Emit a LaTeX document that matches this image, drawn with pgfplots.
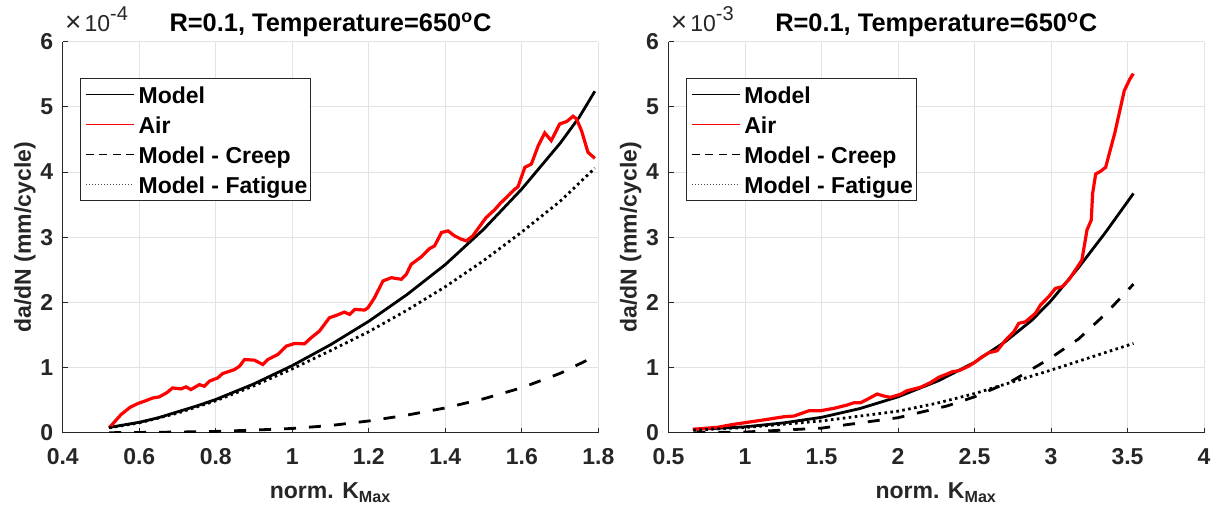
\documentclass[border=0pt]{standalone}
\usepackage{fontspec}
\setmainfont{Liberation Sans}
\usepackage{pgfplots}
\pgfplotsset{compat=1.18}
\definecolor{axc}{HTML}{262626}
\definecolor{gridc}{HTML}{E3E3E3}
\newcommand{\tfont}{\fontsize{11.5}{13.5}\selectfont\bfseries}
\newcommand{\scalelabel}[1]{\fontsize{11.5}{12}\selectfont\mdseries{\fontsize{14}{14}\selectfont×}\hspace{1.5pt}10\raisebox{5.5pt}{\fontsize{10}{10}\selectfont #1}}
\tikzset{scalelab/.style={anchor=base west, text=axc, inner sep=0pt, xshift=1pt, yshift=5pt}}
\pgfplotsset{
  mystyle/.style={
    scale only axis, width=267.75pt, height=195.5pt, clip mode=individual,
    axis lines=left, axis line style={-, draw=axc, line width=0.5pt},
    grid=major, major grid style={draw=gridc, line width=0.5pt},
    tick align=inside, major tick length=2.5pt, tick style={draw=axc, line width=0.5pt},
    ymin=0, ymax=6, ytick={0,1,2,3,4,5,6},
    /pgf/number format/assume math mode=true,
    every tick label/.append style={font=\tfont, text=axc},
    xticklabel style={yshift=-4.3pt},
    yticklabel style={xshift=-1.3pt},
    ylabel={da/dN (mm/cycle)},
    xlabel={norm. K\textsubscript{Max}},
    every axis x label/.style={at={(axis description cs:0.5,0)}, anchor=base, yshift=-33pt, font=\tfont, text=axc},
    every axis y label/.style={at={(axis description cs:0,0.5)}, rotate=90, anchor=base, yshift=15.9pt, font=\tfont, text=axc},
    title={R=0.1, Temperature=650\textsuperscript{o}C},
    every axis title/.style={at={(axis description cs:0.5,1)}, anchor=base, yshift=5pt, font=\fontsize{12.7}{14}\selectfont\bfseries, text=black},
    legend style={at={(0.032,0.908)}, anchor=north west, draw=axc, line width=0.5pt, fill=white,
      inner sep=0.6pt, font=\tfont, column sep=1pt,
      nodes={inner sep=1pt, text height=11.2pt, text depth=1.8pt}},
    legend cell align=left,
  },
  modelsty/.style={black, line width=1.4pt,
    legend image code/.code={\path (0pt,0pt); \draw[black, line width=0.6pt] (1.4pt,0pt) -- (25.4pt,0pt);}},
  airsty/.style={red, line width=1.6pt,
    legend image code/.code={\path (0pt,0pt); \draw[red, line width=0.6pt] (1.4pt,0pt) -- (25.4pt,0pt);}},
  creepsty/.style={black, line width=1.4pt, dash pattern=on 6pt off 6.5pt,
    legend image code/.code={\path (0pt,0pt); \draw[black, line width=0.6pt, dash pattern=on 4pt off 2.7pt] (1.4pt,0pt) -- (25.4pt,0pt);}},
  fatsty/.style={black, line width=1.4pt, dash pattern=on 1.3pt off 1.7pt,
    legend image code/.code={\path (0pt,0pt); \draw[black!70, line width=0.6pt, dash pattern=on 0.6pt off 0.9pt] (1.4pt,0pt) -- (25.4pt,0pt);}},
}
\begin{document}
\begin{tikzpicture}
\useasboundingbox (0,0) rectangle (610pt,256.5pt);
% ---------------- left panel ----------------
\begin{axis}[mystyle, at={(31.4pt,40.15pt)}, anchor=south west,
  xmin=0.4, xmax=1.8, xtick={0.4,0.6,0.8,1,1.2,1.4,1.6,1.8}]
\addplot[modelsty] coordinates {
(0.521,0.08) (0.55,0.11) (0.6,0.16) (0.65,0.23) (0.7,0.32) (0.75,0.41) (0.8,0.51)
(0.9,0.75) (1.0,1.03) (1.1,1.35) (1.2,1.71) (1.3,2.12) (1.4,2.58) (1.5,3.12)
(1.6,3.74) (1.7,4.44) (1.75,4.84) (1.791,5.24)};
\addlegendentry{Model}
\addplot[airsty] coordinates {
(0.521,0.072) (0.552,0.277) (0.576,0.39) (0.597,0.45) (0.613,0.482) (0.635,0.533)
(0.652,0.549) (0.672,0.614) (0.687,0.687) (0.709,0.672) (0.722,0.703) (0.735,0.662)
(0.757,0.738) (0.770,0.713) (0.783,0.790) (0.805,0.841) (0.818,0.908) (0.849,0.969)
(0.862,1.021) (0.875,1.123) (0.901,1.113) (0.923,1.046) (0.936,1.123) (0.962,1.200)
(0.984,1.328) (1.006,1.369) (1.032,1.364) (1.049,1.456) (1.071,1.559) (1.097,1.764)
(1.115,1.800) (1.136,1.851) (1.150,1.815) (1.163,1.892) (1.189,1.882) (1.198,1.918)
(1.215,2.072) (1.237,2.328) (1.259,2.379) (1.285,2.354) (1.298,2.431) (1.311,2.585)
(1.337,2.697) (1.359,2.826) (1.372,2.867) (1.390,3.072) (1.407,3.097) (1.424,3.021)
(1.442,2.969) (1.455,2.944) (1.472,3.021) (1.494,3.200) (1.507,3.303) (1.529,3.421)
(1.542,3.508) (1.564,3.636) (1.582,3.738) (1.590,3.774) (1.608,4.072) (1.625,4.123)
(1.643,4.405) (1.660,4.600) (1.677,4.482) (1.699,4.738) (1.717,4.774) (1.734,4.856)
(1.743,4.815) (1.756,4.636) (1.773,4.303) (1.791,4.210)};
\addlegendentry{Air}
\addplot[creepsty] coordinates {
(0.521,0.0) (0.6,0.004) (0.7,0.01) (0.8,0.02) (0.9,0.04) (1.0,0.065) (1.1,0.11)
(1.2,0.18) (1.3,0.27) (1.4,0.38) (1.5,0.52) (1.6,0.69) (1.7,0.91) (1.791,1.17)};
\addlegendentry{Model - Creep}
\addplot[fatsty] coordinates {
(0.521,0.075) (0.6,0.15) (0.7,0.30) (0.8,0.49) (0.9,0.72) (1.0,0.98) (1.1,1.26)
(1.2,1.55) (1.3,1.88) (1.4,2.24) (1.5,2.64) (1.6,3.08) (1.7,3.55) (1.791,4.06)};
\addlegendentry{Model - Fatigue}
\node[scalelab] at (rel axis cs:0,1) {\scalelabel{-4}};
\end{axis}
% ---------------- right panel ----------------
\begin{axis}[mystyle, at={(334.25pt,40.15pt)}, anchor=south west,
  xmin=0.5, xmax=4, xtick={0.5,1,1.5,2,2.5,3,3.5,4}]
\addplot[modelsty] coordinates {
(0.662,0.05) (0.8,0.065) (1.0,0.09) (1.25,0.15) (1.5,0.236) (1.75,0.37) (2.0,0.55)
(2.267,0.80) (2.5,1.08) (2.703,1.40) (2.876,1.728) (3.0,2.025) (3.181,2.537)
(3.355,3.07) (3.539,3.672)};
\addlegendentry{Model}
\addplot[airsty] coordinates {
(0.658,0.052) (0.821,0.083) (0.913,0.123) (1.001,0.154) (1.147,0.205) (1.255,0.245)
(1.321,0.256) (1.418,0.337) (1.494,0.337) (1.581,0.374) (1.668,0.425) (1.712,0.46)
(1.755,0.46) (1.799,0.512) (1.864,0.594) (1.907,0.563) (1.950,0.543) (2.016,0.589)
(2.059,0.644) (2.146,0.696) (2.211,0.767) (2.266,0.85) (2.320,0.90) (2.355,0.936)
(2.398,0.951) (2.464,1.023) (2.507,1.089) (2.550,1.166) (2.594,1.227) (2.648,1.258)
(2.703,1.422) (2.757,1.549) (2.789,1.678) (2.833,1.702) (2.898,1.831) (2.931,1.959)
(2.985,2.086) (3.029,2.215) (3.072,2.239) (3.115,2.342) (3.159,2.495) (3.202,2.649)
(3.235,3.109) (3.263,3.262) (3.272,3.672) (3.292,3.97) (3.320,4.005) (3.357,4.072)
(3.418,4.61) (3.479,5.25) (3.516,5.43) (3.538,5.51)};
\addlegendentry{Air}
\addplot[creepsty] coordinates {
(0.662,0.0) (1.0,0.01) (1.5,0.07) (2.0,0.23) (2.32,0.41) (2.5,0.55) (2.75,0.80)
(3.0,1.15) (3.181,1.44) (3.355,1.82) (3.539,2.28)};
\addlegendentry{Model - Creep}
\addplot[fatsty] coordinates {
(0.662,0.04) (1.0,0.08) (1.5,0.18) (2.0,0.33) (2.25,0.45) (2.5,0.60) (2.75,0.78)
(3.0,0.96) (3.25,1.15) (3.539,1.37)};
\addlegendentry{Model - Fatigue}
\node[scalelab] at (rel axis cs:0,1) {\scalelabel{-3}};
\end{axis}
\end{tikzpicture}
\end{document}
